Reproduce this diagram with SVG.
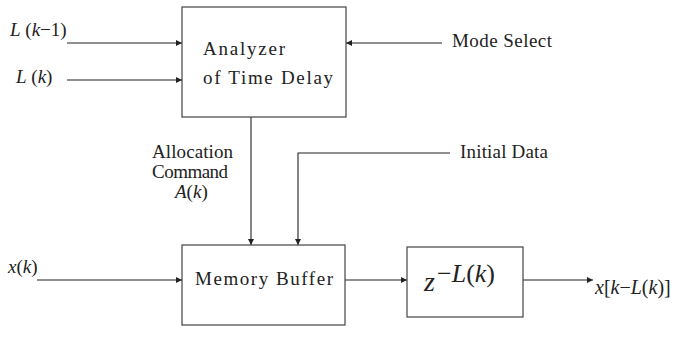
<svg xmlns="http://www.w3.org/2000/svg" width="677" height="337" viewBox="0 0 677 337">
<defs>
<style>
.box{fill:#fff;stroke:#444;stroke-width:1.2}
.ln{fill:none;stroke:#222;stroke-width:1.1}
text{font-family:"Liberation Serif","Times New Roman",serif;fill:#222}
.lab{font-size:19px}
.it{font-style:italic}
</style>
<marker id="ah" viewBox="0 0 10 10" refX="10" refY="5" markerWidth="8" markerHeight="6" markerUnits="userSpaceOnUse" orient="auto">
<path d="M0,0 L10,5 L0,10 Z" fill="#222"/>
</marker>
</defs>
<rect width="677" height="337" fill="#fff"/>
<g id="connectors">
<line class="ln" x1="67" y1="43" x2="182" y2="43" marker-end="url(#ah)"/>
<line class="ln" x1="67" y1="80" x2="182" y2="80" marker-end="url(#ah)"/>
<line class="ln" x1="442" y1="43" x2="346" y2="43" marker-end="url(#ah)"/>
<line class="ln" x1="251" y1="117" x2="251" y2="245" marker-end="url(#ah)"/>
<polyline class="ln" points="450,153 298,153 298,245" marker-end="url(#ah)"/>
<line class="ln" x1="37" y1="280" x2="182" y2="280" marker-end="url(#ah)"/>
<line class="ln" x1="345" y1="280" x2="407" y2="280" marker-end="url(#ah)"/>
<line class="ln" x1="523" y1="280" x2="593" y2="280" marker-end="url(#ah)"/>
</g>
<g id="analyzer">
<rect class="box" x="182" y="7" width="164" height="110"/>
<text class="lab" x="203" y="55" textLength="82" lengthAdjust="spacing">Analyzer</text>
<text class="lab" x="203" y="84" textLength="130" lengthAdjust="spacing">of Time Delay</text>
</g>
<g id="memory-buffer">
<rect class="box" x="182" y="245" width="163" height="80"/>
<text class="lab" x="195" y="285" textLength="138" lengthAdjust="spacing">Memory Buffer</text>
</g>
<g id="delay">
<rect class="box" x="407" y="247" width="116" height="70"/>
<text x="424" y="291" font-size="28" class="it">z</text>
<text x="437" y="282" font-size="26"><tspan>−</tspan><tspan class="it">L</tspan><tspan>(</tspan><tspan class="it">k</tspan><tspan>)</tspan></text>
</g>
<g id="labels">
<text class="lab" x="10" y="36"><tspan class="it">L</tspan> (<tspan class="it">k</tspan>−1)</text>
<text class="lab" x="16" y="83"><tspan class="it">L</tspan> (<tspan class="it">k</tspan>)</text>
<text class="lab" x="452" y="47" textLength="100" lengthAdjust="spacing">Mode Select</text>
<text class="lab" x="460" y="158" textLength="88" lengthAdjust="spacing">Initial Data</text>
<text class="lab" x="152" y="158" textLength="81" lengthAdjust="spacing">Allocation</text>
<text class="lab" x="152" y="178" textLength="76" lengthAdjust="spacing">Command</text>
<text class="lab" x="175" y="198"><tspan class="it">A</tspan>(<tspan class="it">k</tspan>)</text>
<text class="lab" x="8" y="273"><tspan class="it">x</tspan>(<tspan class="it">k</tspan>)</text>
<text x="595" y="294" font-size="20"><tspan class="it">x</tspan>[<tspan class="it">k</tspan>−<tspan class="it">L</tspan>(<tspan class="it">k</tspan>)]</text>
</g>
</svg>
